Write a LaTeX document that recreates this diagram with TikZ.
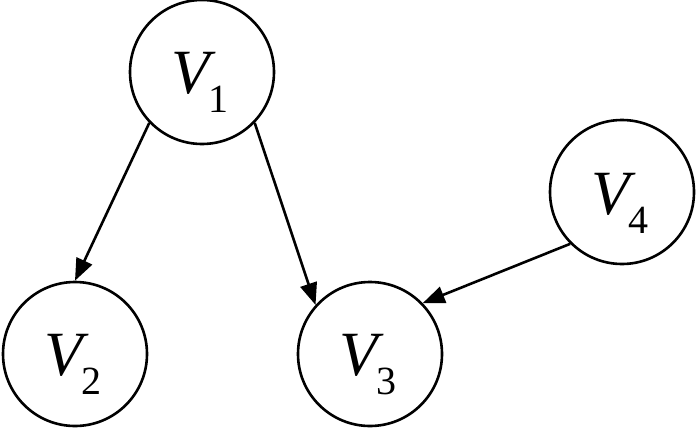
\documentclass[tikz,border=0pt]{standalone}
\usepackage{fontspec}
\setmainfont{Liberation Serif}
\usetikzlibrary{arrows.meta}
\tikzset{
  vert/.style={circle, draw, line width=2.6pt, minimum size=144pt, inner sep=0pt},
  lab/.style={inner sep=0pt, anchor=center},
  edge/.style={line width=2.6pt, -{Triangle[length=22pt,width=17pt]}}
}
\newcommand{\vlab}[1]{\fontsize{63}{63}\selectfont\textit{V}\hspace{-7pt}\raisebox{-19pt}{\fontsize{40}{40}\selectfont #1}}
\begin{document}
\begin{tikzpicture}[x=1pt,y=-1pt]
\useasboundingbox (0,0) rectangle (700,428);
\node[vert] (V1) at (202,72) {};
\node[vert] (V2) at (75,354) {};
\node[vert] (V3) at (370,354) {};
\node[vert] (V4) at (622,192) {};
\node[lab] (L1) at (200,82) {\vlab{1}};
\node[lab] (L2) at (73,364) {\vlab{2}};
\node[lab] (L3) at (368,365) {\vlab{3}};
\node[lab] (L4) at (620,203) {\vlab{4}};
\draw[edge] (V1.224) -- (V2.90);
\draw[edge] (V1.316) -- (V3.138);
\draw[edge] (V4.225) -- (V3.44);
\end{tikzpicture}
\end{document}
